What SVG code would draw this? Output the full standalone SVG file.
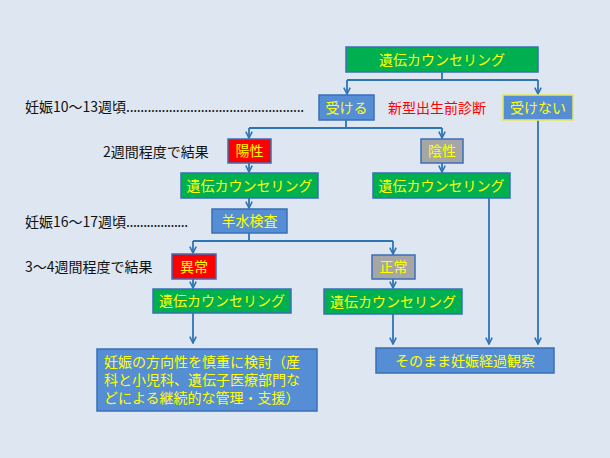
<svg xmlns="http://www.w3.org/2000/svg" width="610" height="458" viewBox="0 0 610 458">
<defs>
<marker id="arr" viewBox="0 0 10 10" refX="9" refY="5" markerWidth="8" markerHeight="8" markerUnits="userSpaceOnUse" orient="auto">
<path d="M1,1 L9,5 L1,9" fill="none" stroke="#2e75b6" stroke-width="2"/>
</marker>
<style>
.t{font-family:"Noto Sans CJK JP","Noto Sans",sans-serif;font-size:14px}
.bt{fill:#ffff00;text-anchor:middle}
.lb{fill:#111}
.g rect{stroke:#3a6fb7;stroke-width:1.5}
.green{fill:#00b050}
.red{fill:#ff0000}
.gray{fill:#a6a6a6}
.blue{fill:#558ed5}
.c path{fill:none;stroke:#2e75b6;stroke-width:1.8}
</style>
</defs>
<rect width="610" height="458" fill="#dde6f1"/>

<g class="c">
<path d="M442,72 V80 M347,80 H538"/>
<path d="M347,80 V94" marker-end="url(#arr)"/>
<path d="M538,80 V94" marker-end="url(#arr)"/>
<path d="M346,120 V128 M249,128 H442"/>
<path d="M249,128 V138" marker-end="url(#arr)"/>
<path d="M442,128 V138" marker-end="url(#arr)"/>
<path d="M249,163 V172" marker-end="url(#arr)"/>
<path d="M442,163 V172" marker-end="url(#arr)"/>
<path d="M249,198 V208" marker-end="url(#arr)"/>
<path d="M249,233 V241 M193,241 H393"/>
<path d="M193,241 V253" marker-end="url(#arr)"/>
<path d="M393,241 V254" marker-end="url(#arr)"/>
<path d="M193,279 V288" marker-end="url(#arr)"/>
<path d="M393,279 V288" marker-end="url(#arr)"/>
<path d="M193,313 V343" marker-end="url(#arr)"/>
<path d="M393,314 V344" marker-end="url(#arr)"/>
<path d="M489,198 V344" marker-end="url(#arr)"/>
<path d="M538,120 V344" marker-end="url(#arr)"/>
</g>

<g id="n-top" class="g"><rect class="green" x="346" y="47" width="192" height="25"/><text class="t bt" x="442" y="64.5">遺伝カウンセリング</text></g>
<g id="n-ukeru" class="g"><rect class="blue" x="319" y="95" width="55" height="25"/><text class="t bt" x="346.5" y="112.5">受ける</text></g>
<g id="n-ukenai"><rect class="blue" x="503" y="95" width="70" height="25" stroke="#e6e65a" stroke-width="1.5"/><text class="t bt" x="538" y="112.5">受けない</text></g>
<g id="n-nipt"><text class="t" x="388" y="113" fill="#ff0000" font-size="15">新型出生前診断</text></g>

<g id="l1"><text class="t lb" x="25" y="112" font-size="15">妊娠10〜13週頃<tspan textLength="178" lengthAdjust="spacing">..................................................</tspan></text></g>
<g id="l2"><text class="t lb" x="103" y="156.5" font-size="14.5">2週間程度で結果</text></g>
<g id="l3"><text class="t lb" x="25" y="227" font-size="15">妊娠16〜17週頃<tspan textLength="62" lengthAdjust="spacing">..................</tspan></text></g>
<g id="l4"><text class="t lb" x="25" y="272" font-size="14.5">3〜4週間程度で結果</text></g>

<g id="n-pos" class="g"><rect class="red" x="228" y="139" width="43" height="24"/><text class="t bt" x="249.5" y="156">陽性</text></g>
<g id="n-neg" class="g"><rect class="gray" x="421" y="139" width="42" height="24"/><text class="t bt" x="442" y="156">陰性</text></g>
<g id="n-gc2" class="g"><rect class="green" x="181" y="173" width="137" height="25"/><text class="t bt" x="249.5" y="190.5">遺伝カウンセリング</text></g>
<g id="n-gc2r" class="g"><rect class="green" x="373" y="173" width="137" height="25"/><text class="t bt" x="441.5" y="190.5">遺伝カウンセリング</text></g>
<g id="n-amnio" class="g"><rect class="blue" x="212" y="209" width="75" height="24"/><text class="t bt" x="249.5" y="226">羊水検査</text></g>
<g id="n-abn" class="g"><rect class="red" x="172" y="254" width="44" height="25"/><text class="t bt" x="194" y="271.5">異常</text></g>
<g id="n-norm" class="g"><rect class="gray" x="372" y="255" width="43" height="24"/><text class="t bt" x="393.5" y="272">正常</text></g>
<g id="n-gc3" class="g"><rect class="green" x="153" y="289" width="138" height="24"/><text class="t bt" x="222" y="306">遺伝カウンセリング</text></g>
<g id="n-gc4" class="g"><rect class="green" x="324" y="289" width="138" height="25"/><text class="t bt" x="393" y="306.5">遺伝カウンセリング</text></g>
<g id="n-consider" class="g"><rect class="blue" x="97" y="349" width="220" height="62"/>
<text class="t" fill="#ffff00" font-size="14"><tspan x="104" y="367">妊娠の方向性を慎重に検討（産</tspan><tspan x="104" y="385">科と小児科、遺伝子医療部門な</tspan><tspan x="104" y="403">どによる継続的な管理・支援）</tspan></text></g>
<g id="n-observe" class="g"><rect class="blue" x="376" y="348" width="178" height="25"/><text class="t bt" x="465" y="365.5">そのまま妊娠経過観察</text></g>
</svg>
